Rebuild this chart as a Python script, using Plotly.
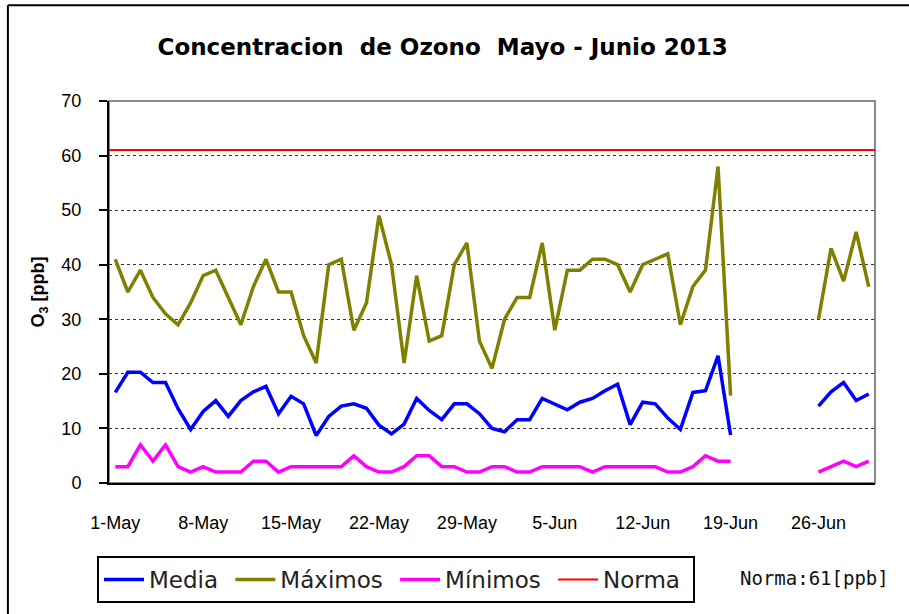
import pandas as pd
import plotly.graph_objects as go

# daily ozone values, 1-May to 30-Jun 2013 (None = no data)
fechas = pd.date_range('2013-05-01', '2013-06-30', freq='D')
hueco = [None] * 6

media = [16.6, 20.3, 20.3, 18.4, 18.4, 13.6, 9.8, 13.1, 15.1, 12.2,
         15.1, 16.7, 17.7, 12.7, 15.9, 14.5, 8.7, 12.2, 14.1, 14.5,
         13.7, 10.6, 9.0, 10.8, 15.5, 13.3, 11.6, 14.5, 14.5, 12.7,
         10.0, 9.4, 11.6, 11.6, 15.5, 14.5, 13.4, 14.8, 15.5, 16.9,
         18.1, 10.7, 14.8, 14.5, 11.9, 9.8, 16.6, 16.9, 23.3, 8.8] + hueco + \
        [14.1, 16.7, 18.4, 15.1, 16.3]

maximos = [41, 35, 39, 34, 31, 29, 33, 38, 39, 34,
           29, 36, 41, 35, 35, 27, 22, 40, 41, 28,
           33, 49, 40, 22, 38, 26, 27, 40, 44, 26,
           21, 30, 34, 34, 44, 28, 39, 39, 41, 41,
           40, 35, 40, 41, 42, 29, 36, 39, 58, 16] + hueco + \
          [30, 43, 37, 46, 36]

minimos = [3, 3, 7, 4, 7, 3, 2, 3, 2, 2,
           2, 4, 4, 2, 3, 3, 3, 3, 3, 5,
           3, 2, 2, 3, 5, 5, 3, 3, 2, 2,
           3, 3, 2, 2, 3, 3, 3, 3, 2, 3,
           3, 3, 3, 3, 2, 2, 3, 5, 4, 4] + hueco + \
          [2, 3, 4, 3, 4]

norma = 61
x_rango = ['2013-04-30 12:00', '2013-06-30 12:00']
tick_fechas = pd.date_range('2013-05-01', '2013-06-26', freq='7D')
tick_textos = ['1-May', '8-May', '15-May', '22-May', '29-May',
               '5-Jun', '12-Jun', '19-Jun', '26-Jun']

# trailing nbsp widens the legend entries a little (Excel draws longer line keys)
pad = '\u00a0'

fig = go.Figure()
fig.add_trace(go.Scatter(x=fechas, y=media, mode='lines', name='Media' + pad,
                         line=dict(color='#0000FF', width=3.5)))
fig.add_trace(go.Scatter(x=fechas, y=maximos, mode='lines', name='Máximos' + pad,
                         line=dict(color='#808000', width=3.5)))
fig.add_trace(go.Scatter(x=fechas, y=minimos, mode='lines', name='Mínimos' + pad,
                         line=dict(color='#FF00FF', width=3.5)))
fig.add_trace(go.Scatter(x=x_rango, y=[norma, norma], mode='lines', name='Norma' + pad,
                         line=dict(color='#FF0000', width=2), cliponaxis=False))

fig.update_layout(
    width=909, height=614,
    margin=dict(l=109, r=34, t=101, b=130),
    paper_bgcolor='white', plot_bgcolor='white',
    font=dict(family='Liberation Sans, Arial', size=18, color='black'),
    title=dict(text='Concentracion\u00a0 de Ozono\u00a0 Mayo - Junio 2013',
               x=0.487, xanchor='center', y=0.924, yanchor='middle',
               font=dict(family='Century Gothic, DejaVu Sans', size=23, color='black',
                         weight='bold')),
    showlegend=True,
    legend=dict(orientation='h', x=-0.0157, xanchor='left', y=-0.188, yanchor='top',
                bordercolor='black', borderwidth=2, bgcolor='white',
                font=dict(family='Century Gothic, DejaVu Sans', size=23, color='#222'),
                itemwidth=40, tracegroupgap=0),
)

fig.update_xaxes(type='date', range=x_rango, tickvals=tick_fechas, ticktext=tick_textos,
                 showgrid=False, showline=True, linecolor='black', linewidth=2,
                 ticks='', ticklabelstandoff=22, zeroline=False)
fig.update_yaxes(range=[0, 70], dtick=10, showline=True, linecolor='black', linewidth=2,
                 ticks='outside', ticklen=8, tickwidth=2, tickcolor='black',
                 ticklabelstandoff=14,
                 gridcolor='#333333', griddash='dot', gridwidth=1, zeroline=False,
                 title=dict(text='<b>O<sub>3</sub> [ppb]</b>', standoff=12,
                            font=dict(size=18)))

# gray top/right frame of the plot area
fig.add_shape(type='rect', xref='x domain', yref='y domain', x0=0, x1=1, y0=0, y1=1,
              line=dict(color='#888888', width=2), layer='below')
# outer chart border (left and top edges; the rest is outside the window)
fig.add_shape(type='line', xref='paper', yref='paper', x0=-0.132, x1=-0.132, y0=-0.5, y1=1.2507,
              line=dict(color='black', width=2))
fig.add_shape(type='line', xref='paper', yref='paper', x0=-0.132, x1=1.2, y0=1.2507, y1=1.2507,
              line=dict(color='black', width=2))

fig.add_annotation(text='Norma:61[ppb]', xref='paper', yref='paper', x=0.821, y=-0.248,
                   xanchor='left', yanchor='middle', showarrow=False,
                   font=dict(family='DejaVu Sans Mono', size=19, color='#111'))

# drop the page's default body margin so the chart sits at the window corner
fig.write_html('out.html', config={'displayModeBar': False},
               post_script="document.body.style.margin='0px';")
